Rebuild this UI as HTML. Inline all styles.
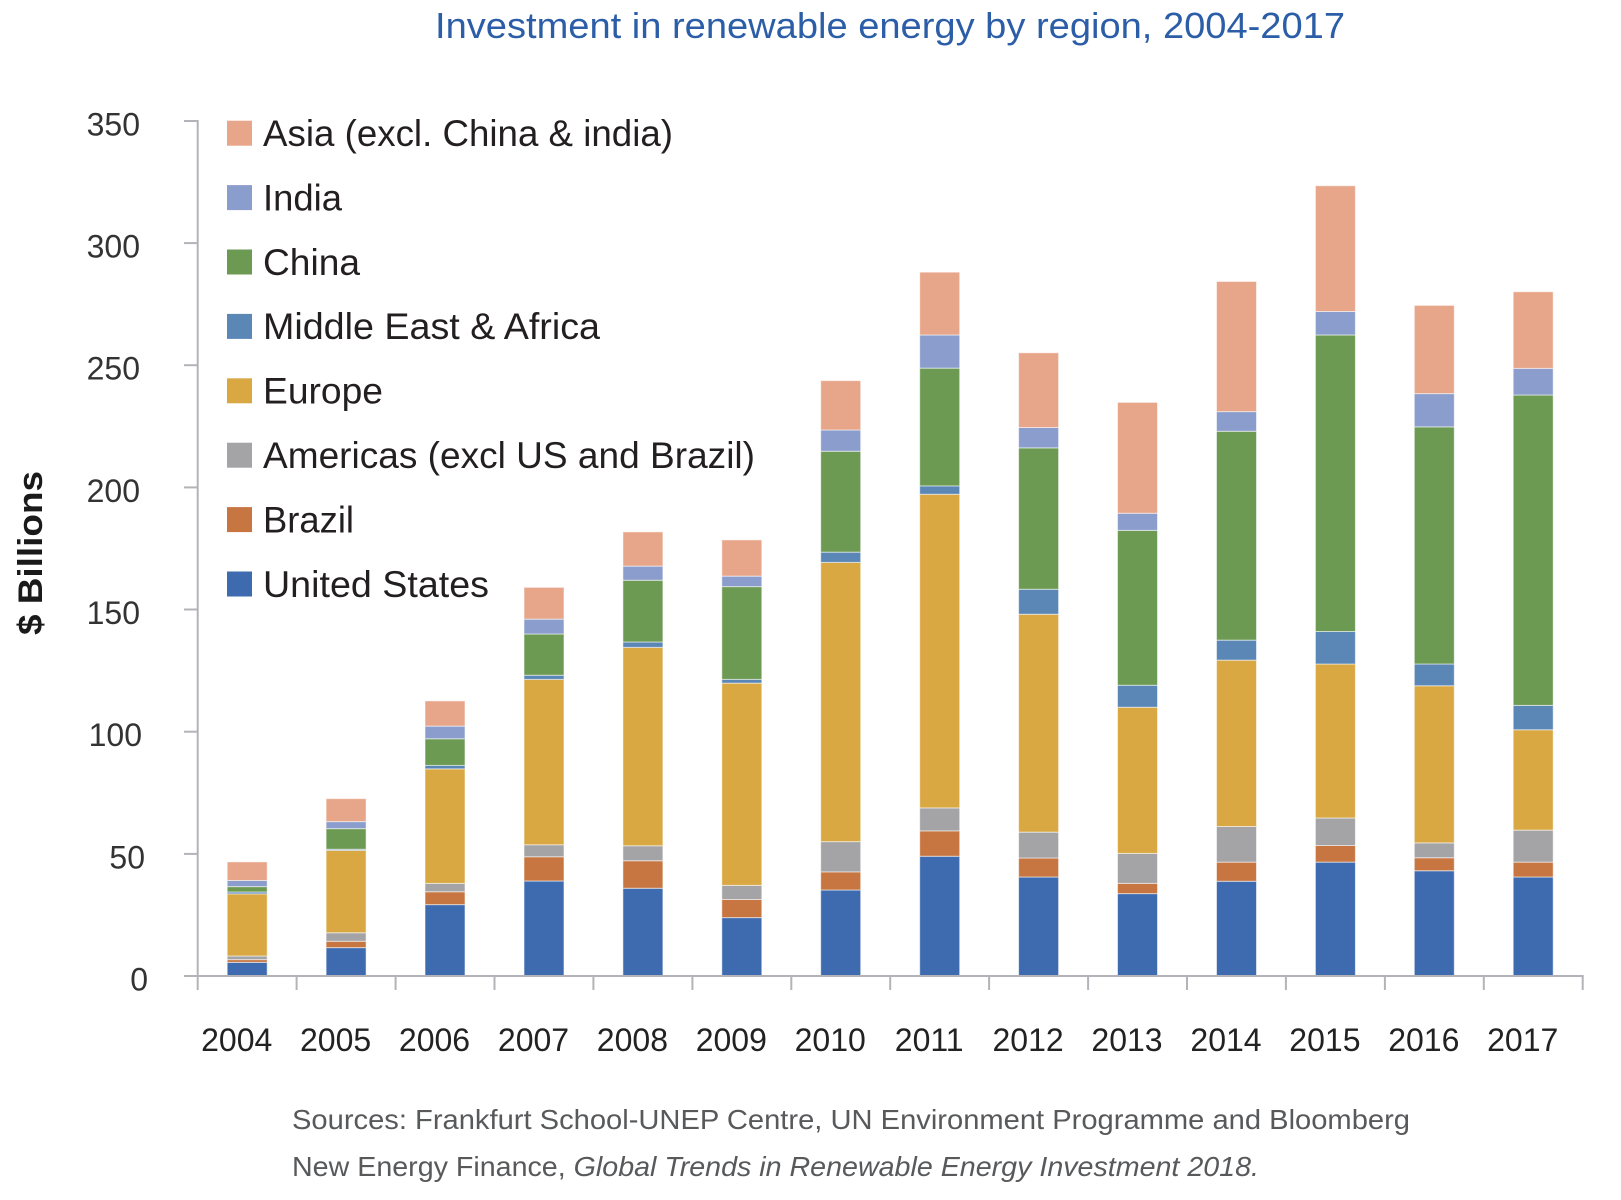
<!DOCTYPE html>
<html>
<head>
<meta charset="utf-8">
<style>
  html, body { margin:0; padding:0; background:#ffffff; }
  svg { display:block; }
  .us { fill:#3e6bb0; }
  .br { fill:#c77641; }
  .am { fill:#a4a4a7; }
  .eu { fill:#d9a843; }
  .me { fill:#5b87b6; }
  .cn { fill:#6d9a53; }
  .in { fill:#8a9dcc; }
  .as { fill:#e7a68a; }
  .bars rect { stroke:rgba(255,255,255,0.55); stroke-width:1; vector-effect:non-scaling-stroke; }
  text { font-family:"Liberation Sans", Arial, Helvetica, sans-serif; }
</style>
</head>
<body>
<svg width="1621" height="1200" viewBox="0 0 1621 1200" xmlns="http://www.w3.org/2000/svg">
  <rect x="0" y="0" width="1621" height="1200" fill="#ffffff"/>

  <!-- Title -->
  <text x="890" y="38" font-size="36" fill="#2c5ea8" text-anchor="middle" textLength="910" lengthAdjust="spacingAndGlyphs">Investment in renewable energy by region, 2004-2017</text>

  <!-- Y axis label -->
  <text transform="translate(42,553) rotate(-90)" font-size="34" font-weight="bold" fill="#1a1a1a" text-anchor="middle" textLength="164" lengthAdjust="spacingAndGlyphs">$ Billions</text>

  <!-- Bars (value space) -->
  <g class="bars" transform="translate(0,976) scale(1,-2.443)">
    <g transform="translate(227.2,0)">
      <rect class="us" x="0" width="40" y="0" height="5.6"/>
      <rect class="br" x="0" width="40" y="5.6" height="1.1"/>
      <rect class="am" x="0" width="40" y="6.7" height="1.5"/>
      <rect class="eu" x="0" width="40" y="8.2" height="25.4"/>
      <rect class="me" x="0" width="40" y="33.6" height="0.8"/>
      <rect class="cn" x="0" width="40" y="34.4" height="2.2"/>
      <rect class="in" x="0" width="40" y="36.6" height="2.5"/>
      <rect class="as" x="0" width="40" y="39.1" height="7.6"/>
    </g>
    <g transform="translate(326.1,0)">
      <rect class="us" x="0" width="40" y="0" height="11.6"/>
      <rect class="br" x="0" width="40" y="11.6" height="2.6"/>
      <rect class="am" x="0" width="40" y="14.2" height="3.5"/>
      <rect class="eu" x="0" width="40" y="17.7" height="33.7"/>
      <rect class="me" x="0" width="40" y="51.4" height="0.5"/>
      <rect class="cn" x="0" width="40" y="51.9" height="8.4"/>
      <rect class="in" x="0" width="40" y="60.3" height="2.9"/>
      <rect class="as" x="0" width="40" y="63.2" height="9.4"/>
    </g>
    <g transform="translate(425.0,0)">
      <rect class="us" x="0" width="40" y="0" height="29.2"/>
      <rect class="br" x="0" width="40" y="29.2" height="5.3"/>
      <rect class="am" x="0" width="40" y="34.5" height="3.4"/>
      <rect class="eu" x="0" width="40" y="37.9" height="46.9"/>
      <rect class="me" x="0" width="40" y="84.8" height="1.4"/>
      <rect class="cn" x="0" width="40" y="86.2" height="10.9"/>
      <rect class="in" x="0" width="40" y="97.1" height="5.2"/>
      <rect class="as" x="0" width="40" y="102.3" height="10.3"/>
    </g>
    <g transform="translate(524.0,0)">
      <rect class="us" x="0" width="40" y="0" height="38.9"/>
      <rect class="br" x="0" width="40" y="38.9" height="9.9"/>
      <rect class="am" x="0" width="40" y="48.8" height="4.9"/>
      <rect class="eu" x="0" width="40" y="53.7" height="67.7"/>
      <rect class="me" x="0" width="40" y="121.4" height="1.7"/>
      <rect class="cn" x="0" width="40" y="123.1" height="16.9"/>
      <rect class="in" x="0" width="40" y="140.0" height="6.1"/>
      <rect class="as" x="0" width="40" y="146.1" height="13.0"/>
    </g>
    <g transform="translate(622.9,0)">
      <rect class="us" x="0" width="40" y="0" height="35.9"/>
      <rect class="br" x="0" width="40" y="35.9" height="11.3"/>
      <rect class="am" x="0" width="40" y="47.2" height="6.1"/>
      <rect class="eu" x="0" width="40" y="53.3" height="81.2"/>
      <rect class="me" x="0" width="40" y="134.5" height="2.2"/>
      <rect class="cn" x="0" width="40" y="136.7" height="25.3"/>
      <rect class="in" x="0" width="40" y="162.0" height="5.8"/>
      <rect class="as" x="0" width="40" y="167.8" height="14.0"/>
    </g>
    <g transform="translate(721.8,0)">
      <rect class="us" x="0" width="40" y="0" height="23.9"/>
      <rect class="br" x="0" width="40" y="23.9" height="7.4"/>
      <rect class="am" x="0" width="40" y="31.3" height="5.8"/>
      <rect class="eu" x="0" width="40" y="37.1" height="82.8"/>
      <rect class="me" x="0" width="40" y="119.9" height="1.5"/>
      <rect class="cn" x="0" width="40" y="121.4" height="38.0"/>
      <rect class="in" x="0" width="40" y="159.4" height="4.3"/>
      <rect class="as" x="0" width="40" y="163.7" height="14.8"/>
    </g>
    <g transform="translate(820.7,0)">
      <rect class="us" x="0" width="40" y="0" height="35.2"/>
      <rect class="br" x="0" width="40" y="35.2" height="7.4"/>
      <rect class="am" x="0" width="40" y="42.6" height="12.4"/>
      <rect class="eu" x="0" width="40" y="55.0" height="114.3"/>
      <rect class="me" x="0" width="40" y="169.3" height="4.2"/>
      <rect class="cn" x="0" width="40" y="173.5" height="41.3"/>
      <rect class="in" x="0" width="40" y="214.8" height="8.7"/>
      <rect class="as" x="0" width="40" y="223.5" height="20.2"/>
    </g>
    <g transform="translate(919.7,0)">
      <rect class="us" x="0" width="40" y="0" height="49.0"/>
      <rect class="br" x="0" width="40" y="49.0" height="10.4"/>
      <rect class="am" x="0" width="40" y="59.4" height="9.4"/>
      <rect class="eu" x="0" width="40" y="68.8" height="128.4"/>
      <rect class="me" x="0" width="40" y="197.2" height="3.4"/>
      <rect class="cn" x="0" width="40" y="200.6" height="48.2"/>
      <rect class="in" x="0" width="40" y="248.8" height="13.6"/>
      <rect class="as" x="0" width="40" y="262.4" height="25.7"/>
    </g>
    <g transform="translate(1018.6,0)">
      <rect class="us" x="0" width="40" y="0" height="40.5"/>
      <rect class="br" x="0" width="40" y="40.5" height="7.8"/>
      <rect class="am" x="0" width="40" y="48.3" height="10.6"/>
      <rect class="eu" x="0" width="40" y="58.9" height="89.2"/>
      <rect class="me" x="0" width="40" y="148.1" height="10.2"/>
      <rect class="cn" x="0" width="40" y="158.3" height="57.9"/>
      <rect class="in" x="0" width="40" y="216.2" height="8.3"/>
      <rect class="as" x="0" width="40" y="224.5" height="30.6"/>
    </g>
    <g transform="translate(1117.5,0)">
      <rect class="us" x="0" width="40" y="0" height="33.7"/>
      <rect class="br" x="0" width="40" y="33.7" height="4.2"/>
      <rect class="am" x="0" width="40" y="37.9" height="12.3"/>
      <rect class="eu" x="0" width="40" y="50.2" height="59.8"/>
      <rect class="me" x="0" width="40" y="110.0" height="9.0"/>
      <rect class="cn" x="0" width="40" y="119.0" height="63.4"/>
      <rect class="in" x="0" width="40" y="182.4" height="7.0"/>
      <rect class="as" x="0" width="40" y="189.4" height="45.4"/>
    </g>
    <g transform="translate(1216.5,0)">
      <rect class="us" x="0" width="40" y="0" height="38.8"/>
      <rect class="br" x="0" width="40" y="38.8" height="7.8"/>
      <rect class="am" x="0" width="40" y="46.6" height="14.6"/>
      <rect class="eu" x="0" width="40" y="61.2" height="68.1"/>
      <rect class="me" x="0" width="40" y="129.3" height="8.2"/>
      <rect class="cn" x="0" width="40" y="137.5" height="85.5"/>
      <rect class="in" x="0" width="40" y="223.0" height="8.0"/>
      <rect class="as" x="0" width="40" y="231.0" height="53.3"/>
    </g>
    <g transform="translate(1315.4,0)">
      <rect class="us" x="0" width="40" y="0" height="46.6"/>
      <rect class="br" x="0" width="40" y="46.6" height="6.8"/>
      <rect class="am" x="0" width="40" y="53.4" height="11.3"/>
      <rect class="eu" x="0" width="40" y="64.7" height="63.0"/>
      <rect class="me" x="0" width="40" y="127.7" height="13.3"/>
      <rect class="cn" x="0" width="40" y="141.0" height="121.4"/>
      <rect class="in" x="0" width="40" y="262.4" height="9.6"/>
      <rect class="as" x="0" width="40" y="272.0" height="51.5"/>
    </g>
    <g transform="translate(1414.3,0)">
      <rect class="us" x="0" width="40" y="0" height="43.1"/>
      <rect class="br" x="0" width="40" y="43.1" height="5.3"/>
      <rect class="am" x="0" width="40" y="48.4" height="6.1"/>
      <rect class="eu" x="0" width="40" y="54.5" height="64.3"/>
      <rect class="me" x="0" width="40" y="118.8" height="8.9"/>
      <rect class="cn" x="0" width="40" y="127.7" height="97.1"/>
      <rect class="in" x="0" width="40" y="224.8" height="13.6"/>
      <rect class="as" x="0" width="40" y="238.4" height="36.1"/>
    </g>
    <g transform="translate(1513.2,0)">
      <rect class="us" x="0" width="40" y="0" height="40.5"/>
      <rect class="br" x="0" width="40" y="40.5" height="6.1"/>
      <rect class="am" x="0" width="40" y="46.6" height="13.1"/>
      <rect class="eu" x="0" width="40" y="59.7" height="41.1"/>
      <rect class="me" x="0" width="40" y="100.8" height="10.0"/>
      <rect class="cn" x="0" width="40" y="110.8" height="127.0"/>
      <rect class="in" x="0" width="40" y="237.8" height="10.9"/>
      <rect class="as" x="0" width="40" y="248.7" height="31.4"/>
    </g>
  </g>

  <!-- Axes -->
  <g stroke="#b3b3b9" stroke-width="2" fill="none">
    <line x1="197.7" y1="120" x2="197.7" y2="977"/>
    <line x1="184" y1="976" x2="1583.7" y2="976"/>
    <!-- y ticks -->
    <line x1="184" y1="121" x2="197.7" y2="121"/>
    <line x1="184" y1="243.1" x2="197.7" y2="243.1"/>
    <line x1="184" y1="365.2" x2="197.7" y2="365.2"/>
    <line x1="184" y1="487.4" x2="197.7" y2="487.4"/>
    <line x1="184" y1="609.5" x2="197.7" y2="609.5"/>
    <line x1="184" y1="731.7" x2="197.7" y2="731.7"/>
    <line x1="184" y1="853.9" x2="197.7" y2="853.9"/>
    <!-- x ticks -->
    <line x1="197.7" y1="976" x2="197.7" y2="990"/>
    <line x1="296.6" y1="976" x2="296.6" y2="990"/>
    <line x1="395.6" y1="976" x2="395.6" y2="990"/>
    <line x1="494.5" y1="976" x2="494.5" y2="990"/>
    <line x1="593.4" y1="976" x2="593.4" y2="990"/>
    <line x1="692.4" y1="976" x2="692.4" y2="990"/>
    <line x1="791.3" y1="976" x2="791.3" y2="990"/>
    <line x1="890.2" y1="976" x2="890.2" y2="990"/>
    <line x1="989.1" y1="976" x2="989.1" y2="990"/>
    <line x1="1088.1" y1="976" x2="1088.1" y2="990"/>
    <line x1="1187.0" y1="976" x2="1187.0" y2="990"/>
    <line x1="1285.9" y1="976" x2="1285.9" y2="990"/>
    <line x1="1384.9" y1="976" x2="1384.9" y2="990"/>
    <line x1="1483.8" y1="976" x2="1483.8" y2="990"/>
    <line x1="1582.7" y1="976" x2="1582.7" y2="990"/>
  </g>

  <!-- Y tick labels -->
  <g font-size="32" fill="#333333" text-anchor="end">
    <text x="140" y="135.5">350</text>
    <text x="140" y="257.6">300</text>
    <text x="140" y="379.7">250</text>
    <text x="140" y="501.9">200</text>
    <text x="140" y="624">150</text>
    <text x="142" y="746.2">100</text>
    <text x="145" y="868.4">50</text>
    <text x="148" y="990.5">0</text>
  </g>

  <!-- X tick labels -->
  <g font-size="32" fill="#222222" text-anchor="middle">
    <text x="236.7" y="1051">2004</text>
    <text x="335.6" y="1051">2005</text>
    <text x="434.5" y="1051">2006</text>
    <text x="533.5" y="1051">2007</text>
    <text x="632.4" y="1051">2008</text>
    <text x="731.3" y="1051">2009</text>
    <text x="830.2" y="1051">2010</text>
    <text x="929.2" y="1051">2011</text>
    <text x="1028.1" y="1051">2012</text>
    <text x="1127.0" y="1051">2013</text>
    <text x="1226.0" y="1051">2014</text>
    <text x="1324.9" y="1051">2015</text>
    <text x="1423.8" y="1051">2016</text>
    <text x="1522.7" y="1051">2017</text>
  </g>

  <!-- Legend -->
  <g>
    <rect class="as" x="227" y="120.7" width="25" height="25"/>
    <rect class="in" x="227" y="185.1" width="25" height="25"/>
    <rect class="cn" x="227" y="249.5" width="25" height="25"/>
    <rect class="me" x="227" y="313.9" width="25" height="25"/>
    <rect class="eu" x="227" y="378.3" width="25" height="25"/>
    <rect class="am" x="227" y="442.7" width="25" height="25"/>
    <rect class="br" x="227" y="507.1" width="25" height="25"/>
    <rect class="us" x="227" y="571.5" width="25" height="25"/>
  </g>
  <g font-size="37" fill="#231f20">
    <text x="263" y="146" textLength="410" lengthAdjust="spacingAndGlyphs">Asia (excl. China &amp; india)</text>
    <text x="263" y="210.4" textLength="79" lengthAdjust="spacingAndGlyphs">India</text>
    <text x="263" y="274.8" textLength="97" lengthAdjust="spacingAndGlyphs">China</text>
    <text x="263" y="339.2" textLength="337" lengthAdjust="spacingAndGlyphs">Middle East &amp; Africa</text>
    <text x="263" y="403.6" textLength="120" lengthAdjust="spacingAndGlyphs">Europe</text>
    <text x="263" y="468" textLength="492" lengthAdjust="spacingAndGlyphs">Americas (excl US and Brazil)</text>
    <text x="263" y="532.4" textLength="91" lengthAdjust="spacingAndGlyphs">Brazil</text>
    <text x="263" y="596.8" textLength="226" lengthAdjust="spacingAndGlyphs">United States</text>
  </g>

  <!-- Sources -->
  <g font-size="28" fill="#58595b">
    <text x="292" y="1129" textLength="1118" lengthAdjust="spacingAndGlyphs">Sources: Frankfurt School-UNEP Centre, UN Environment Programme and Bloomberg</text>
    <text x="292" y="1176" textLength="967" lengthAdjust="spacingAndGlyphs">New Energy Finance, <tspan font-style="italic">Global Trends in Renewable Energy Investment 2018.</tspan></text>
  </g>
</svg>
</body>
</html>
